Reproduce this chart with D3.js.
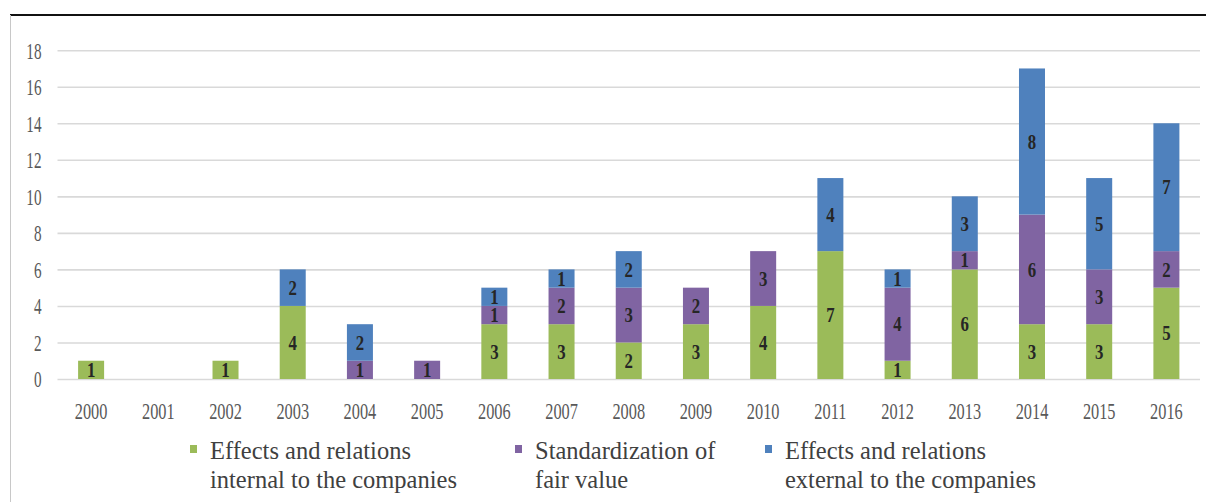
<!DOCTYPE html>
<html>
<head>
<meta charset="utf-8">
<script src="https://cdn.jsdelivr.net/npm/d3@7"></script>
<style>
html,body{margin:0;padding:0;background:#fff;}
svg{display:block;}
</style>
</head>
<body>
<svg id="chart" width="1206" height="502"></svg>
<script>
// ---- data ----
const years = ["2000","2001","2002","2003","2004","2005","2006","2007","2008","2009","2010","2011","2012","2013","2014","2015","2016"];
const internalVals = [1,0,1,4,0,0,3,3,2,3,4,7,1,6,3,3,5];
const fairValueVals = [0,0,0,0,1,1,1,2,3,2,3,0,4,1,6,3,2];
const externalVals = [0,0,0,2,2,0,1,1,2,0,0,4,1,3,8,5,7];
const seriesNames = ["Effects and relations internal to the companies","Standardization of fair value","Effects and relations external to the companies"];
const legendLines = [["Effects and relations","internal to the companies"],["Standardization of","fair value"],["Effects and relations","external to the companies"]];
const yTicks = [0,2,4,6,8,10,12,14,16,18];

// ---- layout ----
const W = 1206, H = 502;
const plotL = 57.5, plotR = 1200, plotT = 50.2, plotB = 379;
const colors = ["#9bbb59","#8064a2","#4f81bd"];
const serif = "Liberation Serif";

const svg = d3.select("#chart");

// frame
svg.append("line").attr("x1",10).attr("x2",W).attr("y1",15).attr("y2",15)
  .attr("stroke","#111").attr("stroke-width",2);
svg.append("line").attr("x1",10.5).attr("x2",10.5).attr("y1",15).attr("y2",H)
  .attr("stroke","#c8c8c8").attr("stroke-width",1);

const x = d3.scaleBand().domain(years).range([plotL, plotR]).paddingInner(0.613).paddingOuter(0.3065);
const y = d3.scaleLinear().domain([0,18]).range([plotB, plotT]);

function squeeze(sel, k){
  sel.each(function(){
    const n = this.getComputedTextLength();
    d3.select(this).attr("textLength", n*k).attr("lengthAdjust","spacingAndGlyphs");
  });
}

// y axis + gridlines
const yAxis = svg.append("g").attr("transform",`translate(${plotL},0)`)
  .call(d3.axisLeft(y).tickValues(yTicks).tickSize(-(plotR-plotL)).tickPadding(16).tickFormat(d3.format("d")));
yAxis.attr("font-family",null);
yAxis.select(".domain").remove();
yAxis.selectAll(".tick line").attr("stroke","#d9d9d9").attr("stroke-width",1.6);
yAxis.selectAll(".tick text").style("font-family",serif).attr("font-size",23).attr("fill","#595959")
  .attr("dy","0.34em").call(squeeze,0.66);

// x axis
const xAxis = svg.append("g").attr("transform",`translate(0,${plotB})`)
  .call(d3.axisBottom(x).tickSize(0).tickPadding(0));
xAxis.attr("font-family",null);
xAxis.select(".domain").remove();
xAxis.selectAll(".tick text").style("font-family",serif).attr("font-size",24).attr("fill","#595959")
  .attr("dy",null).attr("y",40).call(squeeze,0.68);

// stacked data
const rows = years.map((yr,i)=>({year:yr, s0:internalVals[i], s1:fairValueVals[i], s2:externalVals[i]}));
const stack = d3.stack().keys(["s0","s1","s2"]);
const layers = stack(rows);

const gBars = svg.append("g");
layers.forEach((layer,li)=>{
  gBars.selectAll(null).data(layer.filter(d=>d[1]-d[0]>0)).enter().append("rect")
    .attr("x",d=>x(d.data.year)).attr("width",x.bandwidth())
    .attr("y",d=>y(d[1])).attr("height",d=>y(d[0])-y(d[1]))
    .attr("fill",colors[li]);
});
layers.forEach((layer,li)=>{
  gBars.selectAll(null).data(layer.filter(d=>d[1]-d[0]>0)).enter().append("text")
    .attr("x",d=>x(d.data.year)+x.bandwidth()/2)
    .attr("y",d=>(y(d[0])+y(d[1]))/2)
    .attr("dy","0.34em")
    .attr("text-anchor","middle")
    .style("font-family",serif).attr("font-weight","bold").attr("font-size",21).attr("fill","#262626")
    .text(d=>d[1]-d[0])
    .call(squeeze,0.8);
});

// legend
const legendX = [190, 515, 765];
const lg = svg.append("g");
legendLines.forEach((lines,i)=>{
  const g = lg.append("g").attr("transform",`translate(${legendX[i]},0)`);
  g.append("rect").attr("x",0).attr("y",445).attr("width",7).attr("height",8).attr("fill",colors[i]);
  g.selectAll("text").data(lines).enter().append("text")
    .attr("x",20).attr("y",(d,j)=>459 + j*28.5)
    .style("font-family",serif).attr("font-size",24.5).attr("fill","#404040")
    .text(d=>d);
});
</script>
</body>
</html>
